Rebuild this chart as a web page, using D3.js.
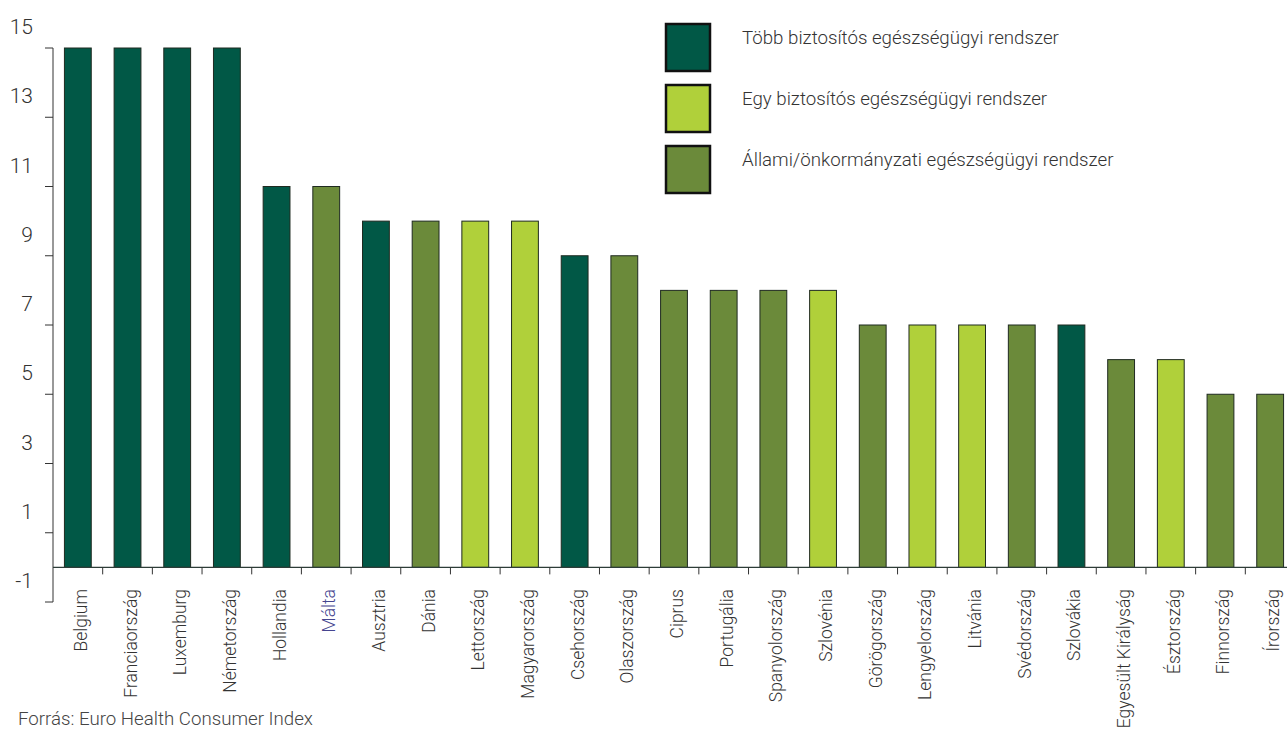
<!DOCTYPE html>
<html>
<head>
<meta charset="utf-8">
<script src="https://cdn.jsdelivr.net/npm/d3@7"></script>
<style>
  body { margin: 0; background: #fff; }
  text { font-family: "Roboto", "Liberation Sans", sans-serif; font-weight: 300; }
</style>
</head>
<body>
<div id="container"></div>
<script>
let w = 1287;
let h = 736;

// data
let countries = ["Belgium", "Franciaország", "Luxemburg", "Németország", "Hollandia", "Málta",
  "Ausztria", "Dánia", "Lettország", "Magyarország", "Csehország", "Olaszország", "Ciprus",
  "Portugália", "Spanyolország", "Szlovénia", "Görögország", "Lengyelország", "Litvánia",
  "Svédország", "Szlovákia", "Egyesült Királyság", "Észtország", "Finnország", "Írország"];
let scores = [15, 15, 15, 15, 11, 11, 10, 10, 10, 10, 9, 9, 8, 8, 8, 8, 7, 7, 7, 7, 7, 6, 6, 5, 5];
// 0 = több biztosítós, 1 = egy biztosítós, 2 = állami/önkormányzati
let systems = [0, 0, 0, 0, 0, 2, 0, 2, 1, 1, 0, 2, 2, 2, 2, 1, 2, 1, 1, 2, 0, 2, 1, 2, 2];
let legendLabels = ["Több biztosítós egészségügyi rendszer",
  "Egy biztosítós egészségügyi rendszer",
  "Állami/önkormányzati egészségügyi rendszer"];
let yTicks = [-1, 1, 3, 5, 7, 9, 11, 13, 15];
let colors = ["#015846", "#b0d03a", "#6b8a3a"];

let viz = d3.select("#container")
  .append("svg")
    .attr("width", w)
    .attr("height", h)
;

let xScale = d3.scaleBand().domain(countries).range([53, 1295]).paddingInner(0.46).paddingOuter(0.23);
let yScale = d3.scaleLinear().domain([-1, 15]).range([602, 48]);

// y axis line + ticks
viz.append("line")
  .attr("x1", 53).attr("x2", 53)
  .attr("y1", yScale(15)).attr("y2", yScale(-1))
  .attr("stroke", "#333").attr("stroke-width", 1);

let yt = viz.selectAll(".ytick").data(yTicks).enter().append("g")
  .attr("class", "ytick")
  .attr("transform", d => "translate(0," + yScale(d) + ")");
yt.append("line").attr("x1", 45).attr("x2", 53).attr("stroke", "#333");
// labels sit above their tick, as in the original
yt.append("text")
  .attr("x", 33).attr("y", -14)
  .attr("text-anchor", "end")
  .attr("font-size", 21)
  .attr("fill", "#333")
  .text(d => d);

// bars
viz.selectAll(".bar").data(countries).enter().append("rect")
  .attr("class", "bar")
  .attr("x", d => xScale(d))
  .attr("y", (d, i) => yScale(scores[i]))
  .attr("width", xScale.bandwidth())
  .attr("height", (d, i) => yScale(0) - yScale(scores[i]))
  .attr("fill", (d, i) => colors[systems[i]])
  .attr("stroke", "#1f2a20")
  .attr("stroke-width", 1);

// x axis at zero
viz.append("line")
  .attr("x1", 53).attr("x2", w)
  .attr("y1", yScale(0)).attr("y2", yScale(0))
  .attr("stroke", "#2d3d38").attr("stroke-width", 1.2);

let step = xScale.step();
viz.selectAll(".xtick").data(countries.slice(1)).enter().append("line")
  .attr("x1", d => xScale(d) - xScale.paddingInner() * step / 2)
  .attr("x2", d => xScale(d) - xScale.paddingInner() * step / 2)
  .attr("y1", yScale(0)).attr("y2", yScale(0) + 7)
  .attr("stroke", "#333");

// category labels
viz.selectAll(".xlabel").data(countries).enter().append("text")
  .attr("transform", d => "translate(" + (xScale(d) + xScale.bandwidth() / 2 + 9) + "," + 589 + ") rotate(-90)")
  .attr("text-anchor", "end")
  .attr("font-size", 17.5)
  .attr("fill", d => d === "Málta" ? "#45458f" : "#333")
  .text(d => d);

// legend
let leg = viz.selectAll(".leg").data(legendLabels).enter().append("g")
  .attr("class", "leg")
  .attr("transform", (d, i) => "translate(666," + (24 + i * 61) + ")");
leg.append("rect")
  .attr("width", 44).attr("height", 47)
  .attr("fill", (d, i) => colors[i])
  .attr("stroke", "#111").attr("stroke-width", 2.5);
leg.append("text")
  .attr("x", 76).attr("y", 20)
  .attr("font-size", 18.7)
  .attr("fill", "#333")
  .text(d => d);

// source
viz.append("text")
  .attr("x", 18).attr("y", 725)
  .attr("font-size", 18.7)
  .attr("fill", "#444")
  .text("Forrás: Euro Health Consumer Index");
</script>
</body>
</html>
